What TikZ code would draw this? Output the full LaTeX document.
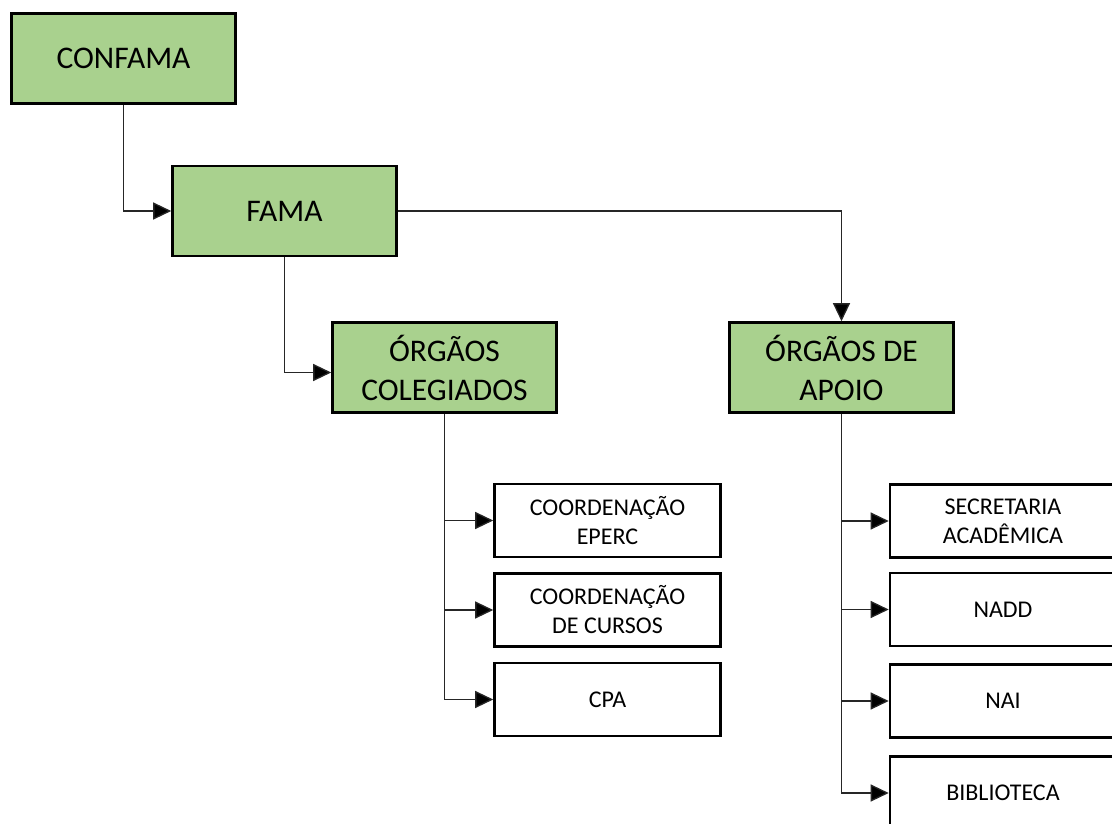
\documentclass[tikz,border=0pt]{standalone}
\usepackage{fontspec}
\setmainfont{Carlito}
\usetikzlibrary{arrows.meta}
\definecolor{boxgreen}{HTML}{A9D18E}
\begin{document}
\begin{tikzpicture}[x=1pt,y=-1pt,
  bigbox/.style={draw=black, line width=2.6pt, fill=boxgreen, rectangle,
    minimum width=224pt, minimum height=90pt, inner sep=0pt, align=center,
    font=\fontsize{31.5}{39}\selectfont},
  smallbox/.style={draw=black, line width=2.6pt, fill=white, rectangle,
    minimum width=226pt, minimum height=73pt, inner sep=0pt, align=center,
    font=\fontsize{24}{29}\selectfont},
  conn/.style={draw=black!85, line width=1.3pt, -{Triangle[length=18pt,width=17pt,fill=black]}}
]
\useasboundingbox (0,0) rectangle (1112,824);
% top level
\node[bigbox] (confama) at (123.5,58.5) {CONFAMA};
\node[bigbox] (fama) at (284.5,211) {FAMA};
\node[bigbox] (colg) at (444.5,367.5) {ÓRGÃOS\\COLEGIADOS};
\node[bigbox] (apoio) at (841.5,367.5) {ÓRGÃOS DE\\APOIO};
% left column
\node[smallbox] (eperc) at (607.5,520.5) {COORDENAÇÃO\\EPERC};
\node[smallbox] (cursos) at (607.5,610) {COORDENAÇÃO\\DE CURSOS};
\node[smallbox] (cpa) at (607.5,699.5) {CPA};
% right column
\node[smallbox] (sec) at (1003,521) {SECRETARIA\\ACADÊMICA};
\node[smallbox] (nadd) at (1003,609.5) {NADD};
\node[smallbox] (nai) at (1003,701) {NAI};
\node[smallbox] (bib) at (1003,793) {BIBLIOTECA};
% connectors
\draw[conn] (confama.south) |- (fama.west);
\draw[conn] (fama.south) |- ([yshift=-5pt]colg.west);
\draw[conn] (fama.east) -| (apoio.north);
\draw[conn] (colg.south) |- (cpa.west);
\draw[conn] (colg.south |- eperc.west) -- (eperc.west);
\draw[conn] (colg.south |- cursos.west) -- (cursos.west);
\draw[conn] (apoio.south) |- (bib.west);
\draw[conn] (apoio.south |- sec.west) -- (sec.west);
\draw[conn] (apoio.south |- nadd.west) -- (nadd.west);
\draw[conn] (apoio.south |- nai.west) -- (nai.west);
\end{tikzpicture}
\end{document}
